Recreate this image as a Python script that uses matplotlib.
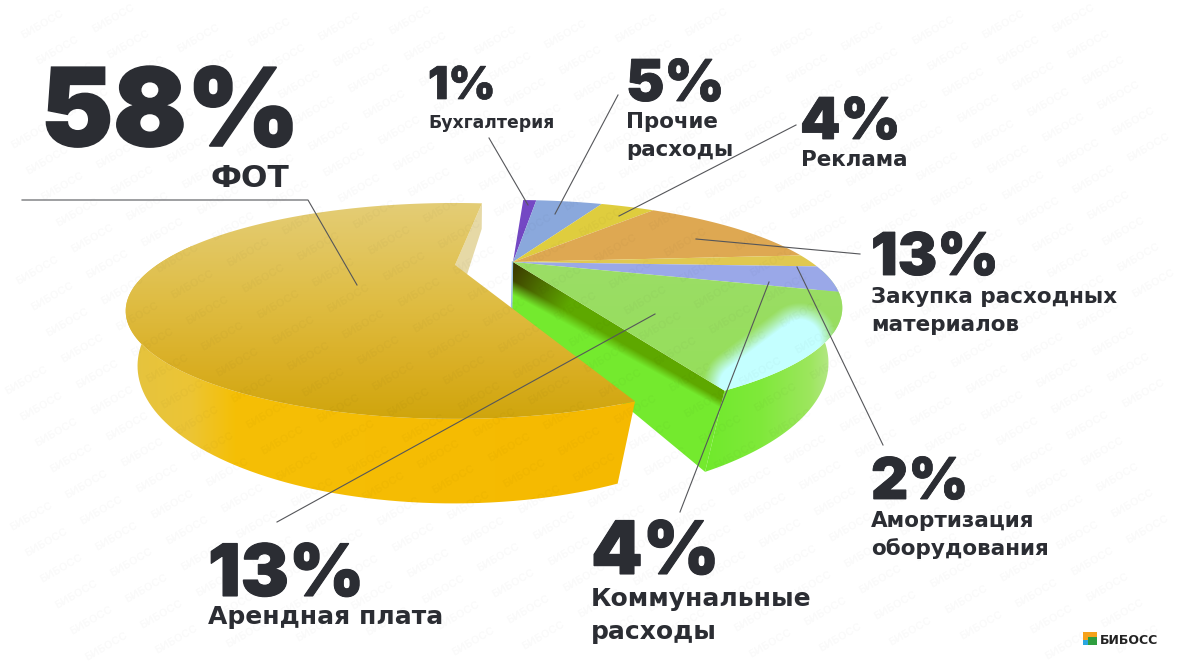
import numpy as np
import matplotlib
matplotlib.use('Agg')
import matplotlib.pyplot as plt
import matplotlib.patheffects as pe
from matplotlib.colors import to_rgb
from matplotlib.patches import Polygon, Rectangle

# Share of costs, clockwise from the back of the pie
categories = ['Бухгалтерия', 'Прочие расходы', 'Реклама', 'Закупка расходных материалов',
              'Амортизация оборудования', 'Коммунальные расходы', 'Арендная плата', 'ФОТ']
values = [1, 5, 4, 13, 2, 4, 13, 58]
slice_colors = ['#7448c4', '#8aa8dc', '#dfcd3e', '#dea852', '#e0c850', '#9aa8e8', '#9adf5c', '#dcb936']

DARK = '#2b2d33'

fig = plt.figure(figsize=(11.8, 6.64), dpi=100)

# angles come from the library's pie, then get projected in perspective
pie_ax = fig.add_axes([0, 0, 0.1, 0.1])
wedges, _ = pie_ax.pie(values, startangle=87.2, counterclock=False)
angles = [(w.theta1, w.theta2) for w in wedges]
pie_ax.remove()

ax = fig.add_axes([0, 0, 1, 1])
ax.set_xlim(0, 1180)
ax.set_ylim(664, 0)
ax.axis('off')


def project(theta, cx, cy, rx=298.0, ry=88.4, k=0.4255):
    t = np.radians(theta)
    u, v = np.cos(t), np.sin(t)
    w = 1 + k * v
    return cx + rx * u / w, cy - ry * v / w


def top_rim(theta, cx, cy):
    return project(theta, cx, cy)


def low_rim(theta, cx, cy):
    return project(theta, cx - 1, cy + 50, rx=294.0, ry=118.7, k=0.37)


def mix(a, b, t):
    t = np.clip(t, 0, 1)[..., None]
    return np.array(to_rgb(a)) * (1 - t) + np.array(to_rgb(b)) * t


def ramp(x, stops):
    pos = [s[0] for s in stops]
    cols = np.array([to_rgb(s[1]) for s in stops])
    return np.dstack([np.interp(x, pos, cols[:, i]) for i in range(3)])


def shade(xs, ys, colorfunc, zorder=2):
    # fill a polygon with a colour computed per pixel
    pts = np.column_stack([xs, ys])
    x0, x1 = int(xs.min()) - 2, int(xs.max()) + 3
    y0, y1 = int(ys.min()) - 2, int(ys.max()) + 3
    xx, yy = np.meshgrid(np.arange(x0, x1) + 0.5, np.arange(y0, y1) + 0.5)
    im = ax.imshow(colorfunc(xx, yy), extent=(x0, x1, y1, y0), aspect='auto',
                   interpolation='bilinear', zorder=zorder)
    clip = Polygon(pts, closed=True, transform=ax.transData, fc='none', ec='none')
    ax.add_patch(clip)
    im.set_clip_path(clip)


# ---- right part of the pie (slices with their own centre)
CX, CY = 513, 262
arc = np.linspace(angles[6][0], -5, 80)
tx, ty = top_rim(arc, CX, CY)
bx, by = low_rim(arc, CX, CY)
shade(np.r_[tx, bx[::-1]], np.r_[ty, by[::-1]],
      lambda xx, yy: ramp(xx, [(705, '#70ea2c'), (760, '#7fe93a'), (810, '#9de65e'), (845, '#c4e8a2')]))

# radial wall with the dark band below the top edge
end_t = top_rim(np.array([angles[6][0]]), CX, CY)
end_b = low_rim(np.array([angles[6][0]]), CX, CY)
ex, ey = end_t[0][0] - CX, end_t[1][0] - CY
elen = np.hypot(ex, ey)


def wall_colors(xx, yy):
    s = ((xx - CX) * ex + (yy - CY) * ey) / elen
    d = yy - CY - (xx - CX) * ey / ex
    band = 34 - 14 * s / elen
    f = np.clip((d / band - 0.55) / 0.45, 0, 1)
    top_col = mix('#3b3600', '#5ea800', np.clip(s / 70, 0, 1))
    return top_col * (1 - f[..., None]) + np.array(to_rgb('#74ea2e')) * f[..., None]


shade(np.array([CX, end_t[0][0], end_b[0][0], CX - 1.0]),
      np.array([CY, end_t[1][0], end_b[1][0], CY + 50.0]), wall_colors)
ax.plot([CX - 0.5, CX - 1.5], [CY, CY + 50], color='#9cc4e8', lw=1, zorder=2)


def green_top(xx, yy):
    base = ramp(yy, [(262, '#9bdd66'), (395, '#95df5a')])
    p0, p1 = np.array([740.0, 385.0]), np.array([800.0, 340.0])
    seg = p1 - p0
    tt = np.clip(((xx - p0[0]) * seg[0] + (yy - p0[1]) * seg[1]) / seg.dot(seg), 0, 1)
    dist = np.hypot(xx - p0[0] - tt * seg[0], yy - p0[1] - tt * seg[1])
    g = np.exp(-(dist / 34.0) ** 2)
    t = np.clip((g - 0.3) / 0.4, 0, 1)[..., None]
    return base * (1 - t) + np.array(to_rgb('#c4ffff')) * t


# top faces
for i in range(7):
    a1, a2 = angles[i]
    x, y = top_rim(np.linspace(a1, a2, 40), CX, CY)
    xs, ys = np.r_[CX, x], np.r_[CY, y]
    if i == 6:
        shade(xs, ys, green_top, zorder=3)
    else:
        ax.add_patch(Polygon(np.column_stack([xs, ys]), closed=True, fc=slice_colors[i], ec='none', zorder=3))

# ---- large slice, pulled out to the left
YX, YY = 455, 265
TURN = -4.6
y_back, y_front = angles[7][0] + TURN, angles[7][1] + TURN

# inner side of the cut, seen from behind
rt = top_rim(np.array([y_back]), YX, YY)
rb = low_rim(np.array([y_back]), YX, YY)
ax.add_patch(Polygon([(YX, YY), (rt[0][0], rt[1][0]), (rb[0][0], rb[1][0]), (YX - 1, YY + 50)],
                     closed=True, fc='#e6d9a6', ec='none', zorder=4))

# outer wall
arc = np.linspace(y_front, y_front - 125, 90)
tx, ty = top_rim(arc, YX, YY)
bx, by = low_rim(arc, YX, YY)
shade(np.r_[tx, bx[::-1]], np.r_[ty, by[::-1]],
      lambda xx, yy: ramp(xx, [(125, '#e4c340'), (190, '#ecc535'), (235, '#f5bf06'), (625, '#f5b900')]), zorder=4)

# top face
x, y = top_rim(np.linspace(y_back, y_front, 160), YX, YY)
shade(np.r_[YX, x], np.r_[YY, y],
      lambda xx, yy: ramp(yy, [(203, '#e4cd76'), (300, '#dfbd44'), (370, '#d9ae22'), (420, '#cfa50c')]), zorder=5)

# ---- background watermark
rot = np.radians(30)
for i in range(-30, 30):
    for j in range(-30, 30):
        px = 590 + i * 64 * np.cos(rot) + j * 30 * np.sin(rot)
        py = 332 - i * 64 * np.sin(rot) + j * 30 * np.cos(rot)
        if 25 < px < 1155 and 18 < py < 646:
            ax.text(px, py, 'БИБОСС', fontsize=8, fontweight='bold', family='Inter', color='black',
                    alpha=0.022, rotation=30, ha='center', va='center', zorder=6)

# ---- leader lines
leaders = [
    ([22, 308, 357], [200, 200, 285]),
    ([489, 528], [138, 205]),
    ([618, 555], [95, 214]),
    ([796, 619], [125, 216]),
    ([860, 696], [254, 239]),
    ([883, 797], [445, 267]),
    ([680, 769], [512, 282]),
    ([277, 655], [522, 314]),
]
for lx, ly in leaders:
    ax.plot(lx, ly, color='#55565a', lw=0.8, zorder=7)


# ---- labels
def big(x, y, s, size):
    ax.text(x, y, s, fontsize=size, fontweight='black', family='Inter', color=DARK,
            ha='left', va='baseline', zorder=8,
            path_effects=[pe.withStroke(linewidth=size * 0.015, foreground=DARK, joinstyle='miter')])


def small(x, y, s, size):
    ax.text(x, y, s, fontsize=size, fontweight='bold', family='DejaVu Sans', color=DARK,
            ha='left', va='baseline', zorder=8)


big(41, 146, '58%', 78)
small(211, 187, 'ФОТ', 22.5)
big(428, 99, '1%', 32.5)
small(428, 128, 'Бухгалтерия', 12.4)
big(626, 101, '5%', 41.5)
small(626, 128, 'Прочие', 15.4)
small(626, 156, 'расходы', 15.4)
big(800, 139, '4%', 41.5)
small(801, 166, 'Реклама', 15.4)
big(871, 275, '13%', 42.5)
small(871, 303, 'Закупка расходных', 15.5)
small(871, 331, 'материалов', 15.5)
big(871, 499, '2%', 41.5)
small(871, 527, 'Амортизация', 15.5)
small(871, 555, 'оборудования', 15.5)
big(591, 574, '4%', 53)
small(591, 606, 'Коммунальные', 18)
small(591, 639, 'расходы', 18)
big(208, 596, '13%', 52)
small(208, 624, 'Арендная плата', 18)

# ---- logo
ax.add_patch(Rectangle((1083, 632), 14, 13, fc='#f6a21a', ec='none', zorder=8))
ax.add_patch(Rectangle((1088, 637), 9, 8, fc='#2f9e3f', ec='none', zorder=9))
ax.add_patch(Rectangle((1083, 640), 5, 5, fc='#2aa7e0', ec='none', zorder=9))
ax.text(1100, 644, 'БИБОСС', fontsize=9, fontweight='bold', family='DejaVu Sans', color='#222222', zorder=8)

ax.set_xlim(0, 1180)
ax.set_ylim(664, 0)
fig.savefig('out.png', dpi=100)
